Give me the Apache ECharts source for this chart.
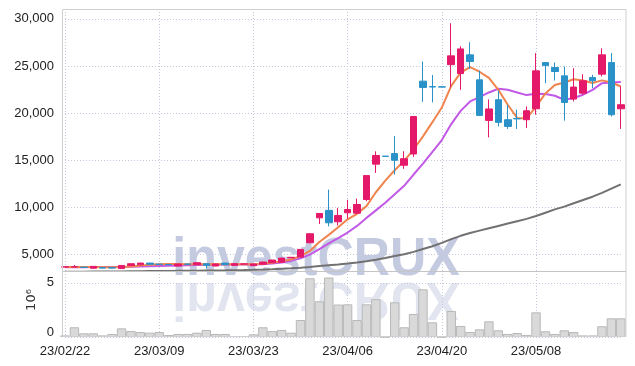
<!DOCTYPE html>
<html><head><meta charset="utf-8">
<script src="https://cdn.jsdelivr.net/npm/echarts@6/dist/echarts.min.js"></script>
<style>html,body{margin:0;padding:0;background:#fff}#c{width:635px;height:366px}</style>
</head><body><div id="c"></div>
<script>
const dates = ['23/02/22','23/02/23','23/02/24','23/02/27','23/02/28','23/03/02','23/03/03','23/03/06','23/03/07','23/03/08',
 '23/03/09','23/03/10','23/03/13','23/03/14','23/03/15','23/03/16','23/03/17','23/03/20','23/03/21','23/03/22',
 '23/03/23','23/03/24','23/03/27','23/03/28','23/03/29','23/03/30','23/03/31','23/04/03','23/04/04','23/04/05',
 '23/04/06','23/04/07','23/04/10','23/04/11','23/04/12','23/04/13','23/04/14','23/04/17','23/04/18','23/04/19',
 '23/04/20','23/04/21','23/04/24','23/04/25','23/04/26','23/04/27','23/04/28','23/05/02','23/05/03','23/05/04',
 '23/05/08','23/05/09','23/05/10','23/05/11','23/05/12','23/05/15','23/05/16','23/05/17','23/05/18','23/05/19'];
const openP = [3690,3690,3680,3560,3620,3620,3530,3850,3920,4110,3990,3960,3800,4000,3940,4040,3800,4110,3870,4000,
 3830,3990,4150,4200,4660,4750,6270,8910,9700,8490,9440,9400,10850,14600,15450,15720,14480,15680,23400,22820,
 22800,25150,24200,26190,23540,19240,21430,19310,19440,19310,20470,25370,24840,23960,21500,22130,23790,24140,25370,20470];
const closeP = [3710,3720,3640,3760,3580,3580,3860,4040,4110,3980,3980,3940,4010,3990,4150,3870,4010,3940,4040,4020,
 4010,4220,4430,4640,4720,5560,7220,9370,8380,9160,9790,10320,13390,15520,15420,15010,15180,19650,22730,22780,
 22770,26080,26820,25480,19770,20450,19030,18600,19400,20260,24490,25050,24420,21140,22770,23440,23440,26190,19840,20900];
const lowP = [3680,3680,3620,3540,3560,3560,3520,3840,3900,3970,3970,3930,3790,3980,3930,3520,3790,3930,3860,3990,
 3820,3980,4140,4190,4640,4720,6200,8250,8000,8090,8810,9300,10670,13670,15400,13490,14100,15370,21200,21150,
 22750,22730,22480,24700,19700,17440,18600,18330,18330,18430,19840,23180,23470,19210,21250,21960,22660,23900,19660,18330];
const highP = [3740,3900,3700,3790,3640,3640,3880,4060,4130,4120,4000,3970,4030,4010,4170,4060,4030,4120,4060,4030,
 4030,4240,4450,4660,4760,5600,7240,9400,11900,9970,10820,10940,13420,15960,15460,17580,15970,19700,25480,24050,
 22850,29540,27100,27530,24510,21460,22400,20900,20370,20720,26370,25400,25370,24950,24780,24140,24070,26890,26370,22830];
const volumeM = [0.15,0.9,0.34,0.34,0.15,0.28,0.8,0.55,0.46,0.4,0.46,0.18,0.28,0.28,0.4,0.65,0.28,0.28,0.09,0.09,
 0.25,0.9,0.55,0.65,0.4,1.57,5.43,3.3,5.5,3.0,3.02,1.57,3.02,3.49,0,3.21,0.9,2.13,4.41,1.36,
 0,2.41,1.02,0.46,0.71,1.45,0.62,0.28,0.37,0.19,2.28,0.53,0.28,0.62,0.46,0.15,0.15,0.99,1.73,1.73];
const ma5 = [3700,3705,3700,3700,3680,3660,3690,3750,3840,3920,3990,4010,4000,3980,4010,3990,4000,3990,3990,3990,
 3990,4040,4140,4300,4500,4850,5400,6350,7100,7900,8750,9330,10150,11620,12850,13950,14950,16150,17550,19050,
 20600,22900,24300,24890,24400,23750,22480,20900,19490,19450,20700,22100,23000,23260,23600,23460,23200,23480,23260,22830];
const ma10 = [3680,3680,3680,3690,3690,3690,3700,3720,3750,3780,3800,3820,3850,3870,3900,3920,3940,3950,3960,3965,
 3970,3990,4060,4180,4340,4620,5000,5600,6200,6750,7350,8050,8900,9700,10500,11400,12300,13500,14650,15900,
 17150,18850,20250,21250,21700,22200,22590,22480,22200,21920,22060,22030,21850,21430,21610,21960,22480,23190,23260,23300];
const ma60 = [3180,3190,3200,3210,3215,3220,3230,3240,3250,3260,3268,3278,3288,3298,3308,3318,3330,3342,3356,3372,
 3390,3420,3455,3500,3555,3620,3700,3790,3880,3960,4060,4170,4300,4470,4650,4850,5050,5300,5600,5900,
 6250,6650,7000,7300,7550,7800,8050,8300,8550,8800,9100,9450,9800,10100,10450,10800,11150,11550,12000,12450];
const priceTicks = [5000,10000,15000,20000,25000,30000];
const volTicks = [0,5];

const candles = dates.map((d,i)=>[openP[i],closeP[i],lowP[i],highP[i]]);
const font = '"Liberation Sans", Arial, sans-serif';
const gridLine = {show:true, lineStyle:{color:'#c3c8dc', type:[1,2], width:1}};
const UP='#e5196a', DOWN='#2a92c8';
const chart = echarts.init(document.getElementById('c'), null, {renderer:'canvas'});
chart.setOption({
  animation:false,
  backgroundColor:'#fff',
  grid:[
    {left:65, right:14.2, top:9, height:262},
    {left:65, right:14.2, top:271, height:66}
  ],
  xAxis:[
    {type:'category', gridIndex:0, data:dates, boundaryGap:false,
     axisLine:{show:false}, axisTick:{show:false, interval:9}, axisLabel:{show:false, interval:9},
     splitLine:Object.assign({interval:9}, gridLine)},
    {type:'category', gridIndex:1, data:dates, boundaryGap:false,
     axisLine:{show:false}, axisTick:{show:false, interval:9},
     axisLabel:{show:true, interval:9, color:'#222', fontFamily:font, fontSize:13, margin:8},
     splitLine:Object.assign({interval:9}, gridLine)}
  ],
  yAxis:[
    {type:'value', gridIndex:0, min:3270, max:31050, scale:true,
     axisLine:{show:false}, axisTick:{show:false, customValues:priceTicks},
     axisLabel:{customValues:priceTicks, color:'#222', fontFamily:font, fontSize:13, margin:11,
       formatter:v=>v.toLocaleString('en-US')},
     splitLine:gridLine},
    {type:'value', gridIndex:1, min:0, max:6.1,
     axisLine:{show:false}, axisTick:{show:false, customValues:volTicks},
     axisLabel:{customValues:volTicks, color:'#222', fontFamily:font, fontSize:13, margin:11,
       formatter:v=> v===0 ? '{z|0}' : String(v), rich:{z:{padding:[0,0,10,0], fontFamily:font, fontSize:13, color:'#222'}}},
     splitLine:gridLine}
  ],
  series:[
    {type:'bar', xAxisIndex:1, yAxisIndex:1, data:volumeM, barWidth:'100%', clip:false,
     itemStyle:{color:'#d9d9d9', borderColor:'#b8b8b8', borderWidth:1}, z:2},
    {type:'line', xAxisIndex:0, yAxisIndex:0, data:ma60, showSymbol:false, smooth:false,
     lineStyle:{color:'#717171', width:2}, z:3},
    {type:'line', xAxisIndex:0, yAxisIndex:0, data:ma10, showSymbol:false,
     lineStyle:{color:'#c259e6', width:2}, z:3},
    {type:'line', xAxisIndex:0, yAxisIndex:0, data:ma5, showSymbol:false,
     lineStyle:{color:'#f0844e', width:2}, z:3},
    {type:'candlestick', xAxisIndex:0, yAxisIndex:0, data:candles, barWidth:7, clip:false,
     itemStyle:{color:UP, color0:DOWN, borderColor:UP, borderColor0:DOWN, borderWidth:1}, z:4}
  ],
  graphic:[
    {type:'group', x:316, y:278, scaleX:0.93, silent:true, z:1, children:[
      {type:'text', style:{text:'investCRUX', x:0, y:9, fill:'#c4cae0', font:'bold 54px "Liberation Sans"', align:'center', verticalAlign:'bottom'}}
    ]},
    {type:'group', x:316, y:280, scaleX:0.93, scaleY:-1, silent:true, z:1, children:[
      {type:'text', style:{text:'investCRUX', x:0, y:9, fill:'#e2e5ef', font:'bold 54px "Liberation Sans"', align:'center', verticalAlign:'bottom'}}
    ]},
    {type:'rect', silent:true, z:20, shape:{x:62.5, y:9.5, width:563.5, height:327}, style:{fill:null, stroke:'#cfcfcf', lineWidth:1}},
    {type:'line', silent:true, z:20, shape:{x1:62.5, y1:271.5, x2:626, y2:271.5}, style:{stroke:'#c4c4c4', lineWidth:1}},
    {type:'text', silent:true, z:20, x:32, y:300, rotation:Math.PI/2,
     style:{text:'10⁶', fill:'#333', font:'13px "DejaVu Sans"', align:'center', verticalAlign:'middle'}}
  ]
});
</script></body></html>
